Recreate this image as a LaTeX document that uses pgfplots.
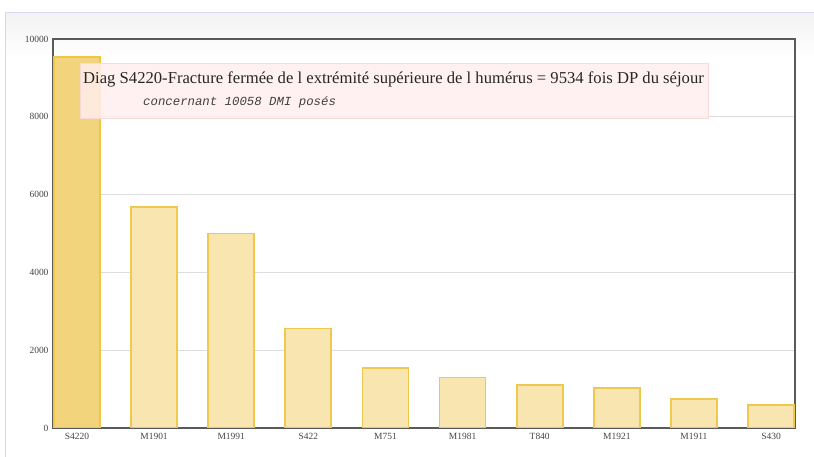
\documentclass[border=0pt]{standalone}
\usepackage{fontspec}
\setmainfont{Liberation Serif}
\setmonofont{Liberation Mono}
\usepackage{pgfplots}
\pgfplotsset{compat=1.18}
\definecolor{barA}{HTML}{F2D47C}
\definecolor{edgeA}{HTML}{EFC648}
\definecolor{barB}{HTML}{F8E5B0}
\definecolor{edgeB}{HTML}{EFC850}
\definecolor{gridc}{HTML}{DDDDDD}
\definecolor{labc}{HTML}{444444}
\definecolor{axc}{HTML}{5A5A5A}
\definecolor{pinkf}{HTML}{FFEEEE}
\definecolor{pinkd}{HTML}{FAD8D8}
\definecolor{lav}{HTML}{D8D8F0}
\begin{document}
\begin{tikzpicture}[x=1bp,y=1bp]
\path[use as bounding box] (0,0) rectangle (814,457);
\shade[top color=black!5, bottom color=white] (5,400) rectangle (814,444);
\draw[lav, line width=1bp] (5,444) -- (814,444);
\draw[black!15, line width=0.8bp] (5,444) -- (5,0);
\begin{axis}[
  at={(53bp,29bp)}, anchor=south west,
  scale only axis, width=742bp, height=389bp,
  xmin=-0.31, xmax=9.31, ymin=0, ymax=10000,
  xtick={0,...,9},
  xticklabels={S4220,M1901,M1991,S422,M751,M1981,T840,M1921,M1911,S430},
  ytick={0,2000,4000,6000,8000,10000},
  ymajorgrids, grid style={draw=gridc, line width=0.7bp},
  major tick length=0pt,
  axis line style={draw=axc, line width=1.5bp},
  tick label style={font=\fontsize{9.5}{11}\selectfont, text=labc},
  /pgf/number format/assume math mode=true,
  scaled y ticks=false,
  yticklabel style={/pgf/number format/1000 sep={}, xshift=-1bp},
  xticklabel style={yshift=-2bp},
]
\addplot[ybar, bar width=46bp, bar shift=0pt, fill=barA, draw=edgeA, line width=1.8bp] coordinates {(0,9534)};
\addplot[ybar, bar width=46bp, bar shift=0pt, fill=barB, draw=edgeB, line width=1.8bp] coordinates {
(1,5690) (2,5000) (3,2560) (4,1545) (5,1300) (6,1100) (7,1030) (8,750) (9,590)};
\end{axis}
\fill[pinkf, fill opacity=0.85] (80,339) rectangle (708,394);
\draw[pinkd, line width=0.6bp] (80,339) rectangle (708,394);
\node[anchor=base west, inner sep=0pt, text=black!85] at (83,373) {\fontsize{16.7}{19}\selectfont Diag S4220-Fracture fermée de l extrémité supérieure de l humérus = 9534 fois DP du séjour};
\node[anchor=base west, inner sep=0pt, text=black!75] at (143,351) {\fontsize{12.4}{14}\selectfont\ttfamily\itshape concernant 10058 DMI posés};
\end{tikzpicture}
\end{document}
